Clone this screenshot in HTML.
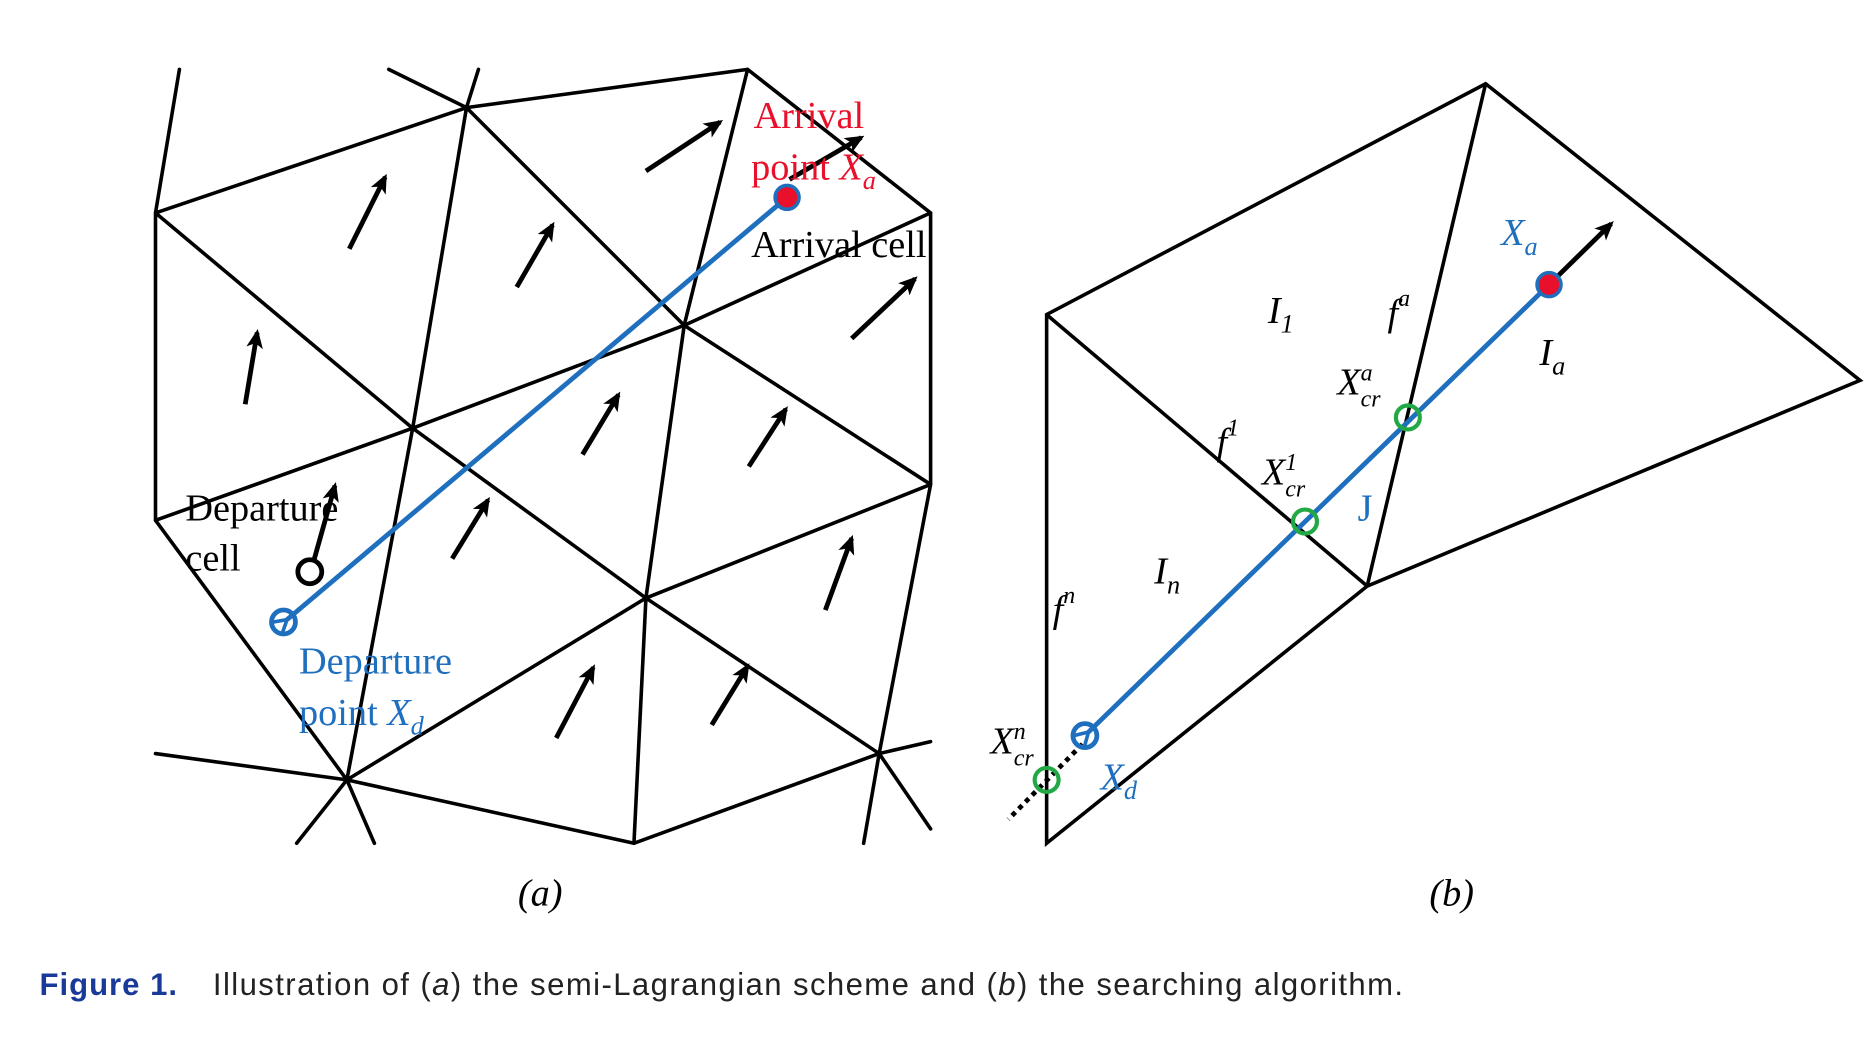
<!DOCTYPE html>
<html><head><meta charset="utf-8"><style>
html,body{margin:0;padding:0;background:#fff;}
svg{display:block;}
text{font-family:"Liberation Serif",serif;}
</style></head><body>
<svg width="1866" height="1052" viewBox="0 0 1560 879.5" preserveAspectRatio="none" xmlns="http://www.w3.org/2000/svg">
<defs>
<marker id="ah" markerWidth="16" markerHeight="14" refX="13" refY="7" orient="auto" markerUnits="userSpaceOnUse" viewBox="0 0 16 14">
<path d="M0,0 L16,7 L0,14 L4,7 z" fill="#000"/></marker>
<marker id="bh" markerWidth="16" markerHeight="16" refX="2" refY="8" orient="auto" markerUnits="userSpaceOnUse" viewBox="0 0 16 16">
<path d="M14,1 L2,8 L14,15" fill="none" stroke="#1f6fbf" stroke-width="3"/></marker>
</defs>
<g stroke="#000" stroke-width="3" fill="none" stroke-linecap="round">
<path d="M150,58L130,178 M130,178L390,90 M325,58L390,90 M400,58L390,90 M390,90L345,358 M390,90L625,58 M625,58L778,178 M390,90L572,272 M625,58L572,272 M130,178L345,358 M130,178L130,435 M572,272L778,178 M778,178L778,405 M345,358L572,272 M572,272L778,405 M130,435L345,358 M345,358L540,500 M572,272L540,500 M778,405L540,500 M345,358L290,652 M130,435L290,652 M540,500L290,652 M540,500L530,705 M778,405L735,630 M540,500L735,630 M130,630L290,652 M290,652L530,705 M530,705L735,630 M735,630L778,620 M290,652L248,705 M290,652L313,705 M735,630L722,705 M735,630L778,693"/>
<path d="M875,263L1242,70 L1555,318 L1143,490 L1242,70 M875,263L1143,490 M875,263L875,705 L1143,490"/>
</g>
<g stroke="#000" stroke-width="4" marker-end="url(#ah)">
<line x1="292" y1="208" x2="322" y2="148"/><line x1="432" y1="240" x2="462" y2="188"/>
<line x1="540" y1="143" x2="602" y2="102"/><line x1="660" y1="150" x2="720" y2="115"/>
<line x1="712" y1="283" x2="765" y2="233"/><line x1="205" y1="338" x2="215" y2="278"/>
<line x1="487" y1="380" x2="517" y2="330"/><line x1="626" y1="390" x2="657" y2="342"/>
<line x1="378" y1="467" x2="408" y2="418"/><line x1="262" y1="470" x2="280" y2="406"/>
<line x1="690" y1="510" x2="712" y2="450"/><line x1="465" y1="617" x2="496" y2="558"/>
<line x1="595" y1="606" x2="625" y2="557"/><line x1="1295" y1="238" x2="1347" y2="187"/>
</g>
<line x1="658" y1="165" x2="240" y2="518" stroke="#1f6fbf" stroke-width="4" marker-end="url(#bh)"/>
<line x1="1295" y1="238" x2="910" y2="612" stroke="#1f6fbf" stroke-width="4" marker-end="url(#bh)"/>
<line x1="905" y1="622" x2="843" y2="685" stroke="#000" stroke-width="4" stroke-dasharray="4,4"/>
<circle cx="658" cy="165" r="10" fill="#e8102a" stroke="#1f6fbf" stroke-width="3"/>
<circle cx="1295" cy="238" r="10" fill="#e8102a" stroke="#1f6fbf" stroke-width="3"/>
<circle cx="237" cy="520" r="10" fill="none" stroke="#1f6fbf" stroke-width="4"/>
<circle cx="907" cy="615" r="10" fill="none" stroke="#1f6fbf" stroke-width="4"/>
<circle cx="259" cy="478" r="10" fill="#fff" stroke="#000" stroke-width="4"/>
<g fill="none" stroke="#22a845" stroke-width="3.5">
<circle cx="1177" cy="349" r="10"/><circle cx="1091" cy="436" r="10"/><circle cx="875" cy="652" r="10"/>
</g>
<g font-size="32">
<text x="630" y="107" fill="#e8102a">Arrival</text>
<text x="628" y="150" fill="#e8102a">point <tspan font-style="italic">X</tspan><tspan font-style="italic" font-size="22" dy="8">a</tspan></text>
<text x="628" y="215">Arrival cell</text>
<text x="155" y="435">Departure</text>
<text x="155" y="477">cell</text>
<text x="250" y="563" fill="#1f6fbf">Departure</text>
<text x="250" y="606" fill="#1f6fbf">point <tspan font-style="italic">X</tspan><tspan font-style="italic" font-size="22" dy="8">d</tspan></text>
<text x="433" y="757" font-style="italic">(a)</text>
<text x="1195" y="757" font-style="italic">(b)</text>
</g>
<g font-size="32" font-style="italic">
<text x="1255" y="205" fill="#1f6fbf">X<tspan font-size="22" dy="8">a</tspan></text>
<text x="1060" y="270">I<tspan font-size="22" dy="8">1</tspan></text>
<text x="1160" y="272">f<tspan font-size="20" dy="-16">a</tspan></text>
<text x="1287" y="305">I<tspan font-size="22" dy="8">a</tspan></text>
<text x="1118" y="330">X<tspan font-size="20" dy="-12">a</tspan><tspan font-size="20" dx="-10" dy="22">cr</tspan></text>
<text x="1017" y="380">f<tspan font-size="20" dy="-16">1</tspan></text>
<text x="1055" y="405">X<tspan font-size="20" dy="-12">1</tspan><tspan font-size="20" dx="-10" dy="22">cr</tspan></text>
<text x="1135" y="435" fill="#1f6fbf" font-style="normal">J</text>
<text x="965" y="488">I<tspan font-size="22" dy="8">n</tspan></text>
<text x="880" y="520">f<tspan font-size="20" dy="-16">n</tspan></text>
<text x="828" y="630">X<tspan font-size="20" dy="-12">n</tspan><tspan font-size="20" dx="-10" dy="22">cr</tspan></text>
<text x="920" y="660" fill="#1f6fbf">X<tspan font-size="22" dy="8">d</tspan></text>
</g>
<text x="33" y="832" style="font-family:'Liberation Sans',sans-serif" font-size="26" font-weight="bold" fill="#1a3a9a" textLength="115">Figure 1.</text>
<text x="178" y="832" style="font-family:'Liberation Sans',sans-serif" font-size="26" fill="#222" textLength="995">Illustration of (<tspan font-style="italic">a</tspan>) the semi-Lagrangian scheme and (<tspan font-style="italic">b</tspan>) the searching algorithm.</text>
</svg>
</body></html>
